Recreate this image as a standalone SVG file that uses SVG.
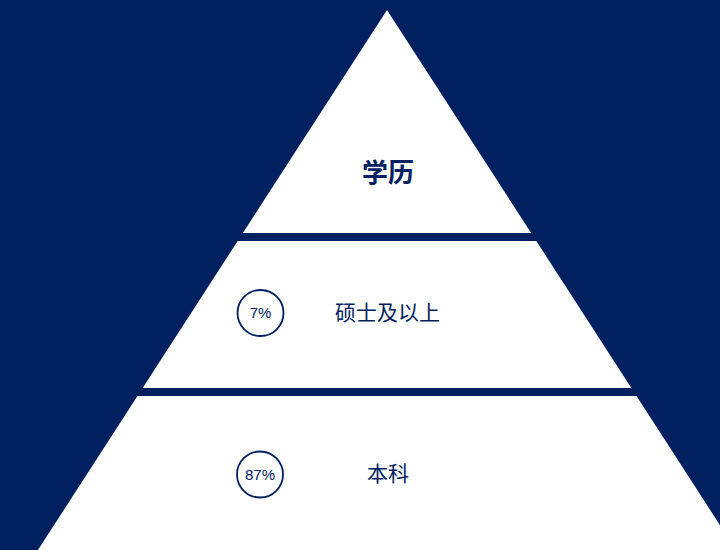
<svg xmlns="http://www.w3.org/2000/svg" width="720" height="550" viewBox="0 0 720 550">
  <style>
    .bg { fill: #002060; }
    .tri { fill: #ffffff; }
    .band { fill: #002060; }
    .ring { fill: none; stroke: #002060; stroke-width: 1.8; }
    .pct { font-family: "Liberation Sans", Arial, sans-serif; font-size: 15px; fill: #002060; text-anchor: middle; }
    .lbl { font-family: "Noto Sans CJK SC", "Noto Sans", sans-serif; font-size: 21px; fill: #002060; text-anchor: middle; dominant-baseline: central; }
    .title { font-family: "Noto Sans CJK SC", "Noto Sans", sans-serif; font-size: 26px; font-weight: 700; fill: #002060; text-anchor: middle; dominant-baseline: central; }
  </style>
  <rect class="bg" x="0" y="0" width="720" height="550"/>
  <polygon class="tri" points="387,10 36,553 738,553"/>
  <rect class="band" x="0" y="233" width="720" height="8"/>
  <rect class="band" x="0" y="388" width="720" height="8"/>
  <g id="connectors"/>
  <g id="node-title">
    <text class="title" x="388" y="170.5">学历</text>
  </g>
  <g id="node-master">
    <circle class="ring" cx="260.5" cy="313" r="23"/>
    <text class="pct" x="260.5" y="318.4">7%</text>
    <text class="lbl" x="387.5" y="310.5">硕士及以上</text>
  </g>
  <g id="node-bachelor">
    <circle class="ring" cx="260" cy="474.5" r="23"/>
    <text class="pct" x="260" y="480">87%</text>
    <text class="lbl" x="388" y="472.3">本科</text>
  </g>
</svg>
